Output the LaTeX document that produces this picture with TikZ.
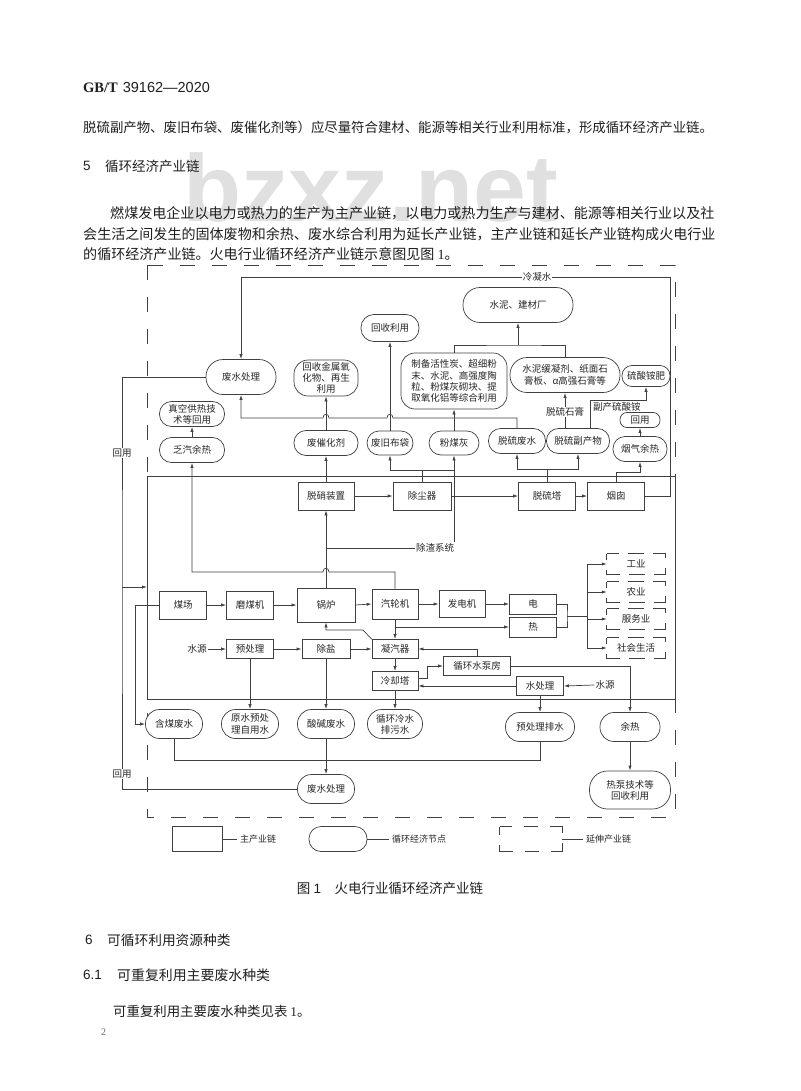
\documentclass[tikz,border=0pt]{standalone}
\usepackage{fontspec}
\setmainfont{Noto Sans CJK SC}
\newfontfamily\lsans{Liberation Sans}
\newfontfamily\lserif{Liberation Serif}
\usetikzlibrary{arrows.meta,calc}
\newcommand\dg{\fontsize{9.5}{11.2}\selectfont}
\newcommand\lgf{\fontsize{9}{11}\selectfont}
\newcommand\bodyf{\fontsize{13.4}{16}\selectfont}
\newcommand\bodyg{\fontsize{14.05}{16}\selectfont}
\begin{document}
\begin{tikzpicture}[x=1pt,y=-1pt,
  ln/.style={draw=black!75, line width=0.7pt},
  arr/.style={ln, -{Latex[length=5pt,width=3.2pt]}},
  mb/.style 2 args={draw=black!75, fill=white, line width=0.7pt, minimum width=#1pt, minimum height=#2pt, inner sep=0pt, font=\dg, text=black!85},
  cn/.style n args={3}{draw=black!75, fill=white, line width=0.7pt, rounded corners=#3pt, minimum width=#1pt, minimum height=#2pt, inner sep=0pt, align=center, font=\dg, text=black!85},
  lab/.style={font=\dg, inner sep=1pt, text=black!85},
  wlab/.style={lab, fill=white},
  dbx/.style={font=\dg, minimum width=58pt, minimum height=20pt, inner sep=0pt, text=black!85},
  dpat/.style={draw=black!75, line width=0.7pt, dash pattern=on 17pt off 9pt on 16pt off 9pt on 17pt off 10pt, dash phase=5pt},
  dpatl/.style={draw=black!75, line width=0.7pt, dash pattern=on 19pt off 12pt on 14pt off 12pt on 19pt off 10pt, dash phase=7pt},
  body/.style={anchor=west, inner sep=0pt, text=black!88},
]
\useasboundingbox (0,0) rectangle (800,1091);
\fill[white] (0,0) rectangle (800,1091);

% watermark
\node[anchor=west, inner sep=0pt, text=black!12, font=\lsans\bfseries\fontsize{95}{95}\selectfont] (wm) at (183,188) {bzxz.net};

% page text
\node[body, font=\fontsize{14.5}{16}\selectfont] (hd) at (83,88) {{\lserif\bfseries GB/T}\hspace{5pt}{\lsans 39162—2020}};
\node[body, font=\bodyf] (t1) at (83,127) {脱硫副产物、废旧布袋、废催化剂等）应尽量符合建材、能源等相关行业利用标准，形成循环经济产业链。};
\node[body, font=\fontsize{13.5}{16}\selectfont] (s5n) at (83,166) {\lsans 5};
\node[body, font=\fontsize{13.5}{16}\selectfont] (s5) at (105,166) {循环经济产业链};
\node[body, font=\bodyg] (p1) at (110,213) {燃煤发电企业以电力或热力的生产为主产业链，以电力或热力生产与建材、能源等相关行业以及社};
\node[body, font=\bodyg] (p2) at (83,234) {会生活之间发生的固体废物和余热、废水综合利用为延长产业链，主产业链和延长产业链构成火电行业};
\node[body, font=\bodyg] (p3) at (83,254) {的循环经济产业链。火电行业循环经济产业链示意图见图 {\lserif 1}。};

% frames
\draw[draw=black!75, line width=0.7pt, dash pattern=on 15pt off 17pt] (147,265) rectangle (675,817);
\draw[ln, fill=white] (147,476) rectangle (675,699);

% top nodes
\node[cn={110}{35}{17}] (jc) at (518,305) {水泥、建材厂};
\node[cn={58}{27}{13}] (hsly) at (390,328) {回收利用};
\node[cn={70}{35}{17}] (fscl) at (241,377) {废水处理};
\node[cn={64}{36}{14}] (hsjs) at (326,378) {回收金属氧\\化物、再生\\利用};
\node[cn={106}{56}{14}] (zb) at (454,381) {制备活性炭、超细粉\\末、水泥、高强度陶\\粒、粉煤灰砌块、提\\取氧化铝等综合利用};
\node[cn={110}{35}{17}] (snhn) at (565,375) {水泥缓凝剂、纸面石\\膏板、α高强石膏等};
\node[cn={48}{21}{10}] (lsaf) at (646,376) {硫酸铵肥};
\node[cn={65}{25}{12}] (zkgr) at (192,414) {真空供热技\\术等回用};
\node[cn={65}{25}{12}] (fqyr) at (192,450) {乏汽余热};
\node[cn={64}{25}{12}] (fchj) at (326,443) {废催化剂};
\node[cn={46}{24}{12}] (fjbd) at (390,443) {废旧布袋};
\node[cn={50}{24}{12}] (fmh) at (454,443) {粉煤灰};
\node[cn={57}{25}{12}] (tlfs) at (517,441) {脱硫废水};
\node[cn={63}{25}{12}] (tlfc) at (578,441) {脱硫副产物};
\node[cn={40}{15}{7}] (hy3) at (640,420) {回用};
\node[cn={54}{25}{12}] (yqyr) at (640,449) {烟气余热};

% main chain nodes
\node[mb={56}{28}] (txzz) at (326,496) {脱硝装置};
\node[mb={58}{28}] (ccq) at (422,496) {除尘器};
\node[mb={57}{28}] (tlt) at (547,496) {脱硫塔};
\node[mb={57}{28}] (yc) at (616,496) {烟囱};
\node[lab] (czxt) at (435,548) {除渣系统};
\node[mb={47}{28}] (mc) at (183,605) {煤场};
\node[mb={47}{28}] (mmj) at (250,605) {磨煤机};
\node[mb={58}{34}] (gl) at (326,605) {锅炉};
\node[mb={46}{30}] (qlj) at (395,604) {汽轮机};
\node[mb={46}{27}] (fdj) at (462,604) {发电机};
\node[mb={47}{20}] (dian) at (533,604) {电};
\node[mb={47}{20}] (re) at (533,627) {热};

\node[dbx] (gy) at (636,564) {工业};
\node[dbx] (ny) at (636,592) {农业};
\node[dbx] (fwy) at (636,619) {服务业};
\node[dbx] (shsh) at (636,648) {社会生活};
\foreach \n in {gy,ny,fwy,shsh}
  \draw[dpat] (\n.north west) -- (\n.north east) -- (\n.south east) -- (\n.south west) -- cycle;

\node[lab] (sy1) at (197,649) {水源};
\node[mb={47}{19}] (ycl) at (250,649) {预处理};
\node[mb={48}{19}] (ys) at (326,649) {除盐};
\node[mb={46}{19}] (nqq) at (395,649) {凝汽器};
\node[mb={67}{19}] (xhsbf) at (477,666) {循环水泵房};
\node[mb={46}{19}] (lqt) at (395,681) {冷却塔};
\node[mb={47}{19}] (scl) at (540,686) {水处理};
\node[lab] (sy2) at (605,685) {水源};

% bottom nodes
\node[cn={57}{29}{14}] (hmfs) at (174,724) {含煤废水};
\node[cn={57}{29}{14}] (yszy) at (250,724) {原水预处\\理自用水};
\node[cn={57}{29}{14}] (sjfs) at (326,724) {酸碱废水};
\node[cn={55}{29}{14}] (xhls) at (395,724) {循环冷水\\排污水};
\node[cn={69}{29}{14}] (yclps) at (540,727) {预处理排水};
\node[cn={60}{29}{14}] (yr) at (630,727) {余热};
\node[cn={57}{29}{14}] (fscl2) at (326,789) {废水处理};
\node[cn={81}{38}{18}] (rbjs) at (630,790) {热泵技术等\\回收利用};

% ---- connectors ----
\draw[arr] (yc.east) -- (670,496) -- (670,277) -| (fscl.north);
\node[wlab] (lns) at (537,277) {冷凝水};
\draw[ln] (fscl.west) -| (122,600) |- (fscl2.west);
\coordinate (ru) at (122,587);
\coordinate (fl) at (147,587);
\draw[arr] (ru) -- (fl);
\node[wlab] (hy1) at (122,453) {回用};
\node[wlab] (hy2) at (122,774) {回用};
\draw[arr] (tlfs.north) |- (393,418) .. controls (393,413) and (387,413) .. (387,418) -- (329,418) .. controls (329,413) and (323,413) .. (323,418) -| (fscl.south);
\draw[arr] (fjbd.north) -- (hsly.south);
\draw[arr] (txzz.north) -- (fchj.south);
\draw[arr] (fchj.north) -- (hsjs.south);
\draw[arr] (fmh.north) -- (zb.south);
\coordinate (jn) at (518,345);
\draw[ln] (zb.north) |- (jn) -| (snhn.north);
\draw[arr] (jn) -- (jc.south);
\draw[arr] (tlfc.north -| snhn.south) -- (snhn.south);
\node[wlab] (tlsg) at (565,412) {脱硫石膏};
\draw[arr] ($(tlfc.north)+(12,0)$) |- ($(lsaf.south)+(0,13)$) -- (lsaf.south);
\node[lab, anchor=north west] (fcls) at (592,401) {副产硫酸铵};
\draw[arr] (yqyr.north) -- (hy3.south);
\draw[arr] (yc.north) -- ++(0,-9) -| (yqyr.south);
\coordinate (tj) at (547,469);
\draw[ln] (tlt.north) -- (tj);
\draw[arr] (tj) -| (tlfs.south);
\draw[arr] (tj) -| (tlfc.south);
\coordinate (cj) at (422,470);
\draw[ln] (ccq.north) -- (cj);
\draw[arr] (cj) -| (fjbd.south);
\draw[arr] (cj) -| (fmh.south);
\draw[ln] (fmh.south |- czxt.north) -- (fmh.south |- cj);
\draw[arr] (txzz.east) -- (ccq.west);
\draw[arr] (ccq.east) -- (tlt.west);
\draw[arr] (tlt.east) -- (yc.west);
\draw[arr] (gl.north) -- (txzz.south);
\draw[ln] (gl.north |- czxt.west) -- (czxt.west);
\draw[arr] (qlj.north) |- (329,572) .. controls (329,567) and (323,567) .. (323,572) -| (fqyr.south);
\draw[arr] (fqyr.north) -- (zkgr.south);
\draw[arr] (mc.east) -- (mmj.west);
\draw[arr] (mmj.east) -- (gl.west);
\draw[arr] (gl.east) -- (qlj.west);
\draw[arr] (qlj.east) -- (fdj.west);
\draw[arr] (fdj.east) -- (dian.west);
\draw[arr] (qlj.south |- re.west) -- (re.west);
\draw[arr] (qlj.south) -- (nqq.north);
\coordinate (bj) at (567,616);
\coordinate (br) at (587,616);
\draw[ln] (dian.east) -| (bj) |- (re.east);
\draw[ln] (bj) -- (br);
\draw[ln] (br |- gy.west) -- (br |- shsh.west);
\foreach \n in {gy,ny,fwy,shsh} \draw[arr] (br |- \n.west) -- (\n.west);
\draw[arr] (mc.west) -- (135,605) |- (hmfs.west);
\draw[arr] (sy1.east) -- (ycl.west);
\draw[arr] (ycl.east) -- (ys.west);
\draw[arr] (ys.east) -- (nqq.west);
\draw[arr] (ycl.south) -- (yszy.north);
\draw[arr] (ys.south) -- (sjfs.north);
\draw[arr] (nqq.north west) -- (363,630) -| (gl.south);
\draw[arr] (nqq.south) -- (lqt.north);
\draw[arr] (lqt.south) -- (xhls.north);
\draw[arr] (xhsbf.north) |- (nqq.east);
\draw[arr] ($(lqt.east)+(0,-3)$) -- ++(9,0) |- (xhsbf.west);
\draw[arr] (scl.west) -- (lqt.east |- scl.west);
\draw[arr] (sy2.west) -- (scl.east);
\draw[arr] (scl.south) -- (yclps.north);
\draw[arr] (xhsbf.east) -| (yr.north);
\draw[arr] (yr.south) -- (rbjs.north);
\draw[ln] (hmfs.south) -- ++(0,21) -| (yclps.south);
\draw[arr] (sjfs.south) -- (fscl2.north);

% legend
\node[mb={50}{25}] (lg1) at (197,839) {};
\node[lab, anchor=west, font=\lgf, inner sep=3pt] (lt1) at (237,839) {主产业链};
\draw[ln] (lg1.east) -- (lt1.west);
\node[cn={58}{25}{12}] (lg2) at (338,839) {};
\node[lab, anchor=west, font=\lgf, inner sep=3pt] (lt2) at (389,839) {循环经济节点};
\draw[ln] (lg2.east) -- (lt2.west);
\node[minimum width=62pt, minimum height=24pt, inner sep=0pt] (lg3) at (531,839) {};
\draw[dpatl] (lg3.north west) -- (lg3.north east) -- (lg3.south east) -- (lg3.south west) -- cycle;
\node[lab, anchor=west, font=\lgf, inner sep=3pt] (lt3) at (583,839) {延伸产业链};
\draw[ln] (lg3.east) -- (lt3.west);

% caption
\node[inner sep=0pt, text=black!88, font=\fontsize{13.5}{16}\selectfont] (cap) at (390,888) {图 {\lsans 1}\quad 火电行业循环经济产业链};

% section 6
\node[body, font=\fontsize{13.5}{16}\selectfont] (s6n) at (85,940) {\lsans 6};
\node[body, font=\fontsize{13.7}{16}\selectfont] (s6) at (107,940) {可循环利用资源种类};
\node[body, font=\fontsize{13.5}{16}\selectfont] (s61n) at (83,975) {\lsans 6.1};
\node[body, font=\fontsize{13.9}{16}\selectfont] (s61) at (117,975) {可重复利用主要废水种类};
\node[body, font=\bodyf] (t6) at (113,1011) {可重复利用主要废水种类见表 {\lserif 1}。};
\node[body, text=black!60, font=\lserif\fontsize{10}{12}\selectfont] (pg) at (101,1032) {2};
\end{tikzpicture}
\end{document}
